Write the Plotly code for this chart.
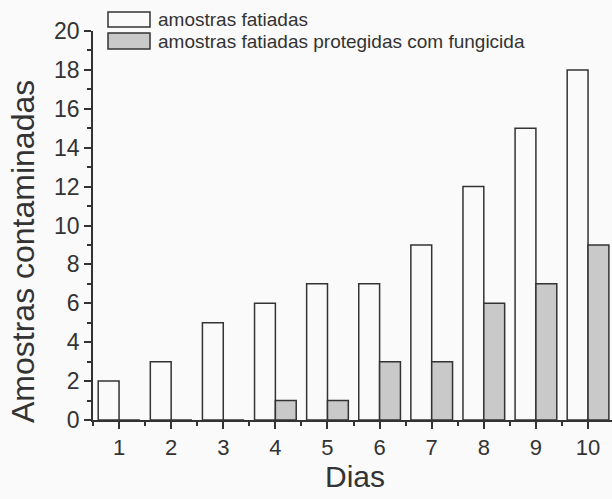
import plotly.graph_objects as go

dias = [1, 2, 3, 4, 5, 6, 7, 8, 9, 10]
fatiadas = [2, 3, 5, 6, 7, 7, 9, 12, 15, 18]
protegidas = [0, 0, 0, 1, 1, 3, 3, 6, 7, 9]
y_ticks = [0, 2, 4, 6, 8, 10, 12, 14, 16, 18, 20]
legend_labels = ["amostras fatiadas", "amostras fatiadas protegidas com fungicida"]
x_title = "Dias"
y_title = "Amostras contaminadas"

ink = "#333333"
bg = "#fafafa"
gray = "#c9c9c9"
font = "Liberation Sans, Arial, sans-serif"

W, H = 612, 499
L, R, T, B = 93, 0, 31, 79
pw, ph = W - L - R, H - T - B

def px(x):
    return (x - L) / pw

def py(y):
    return (H - B - y) / ph

fig = go.Figure()
fig.add_trace(go.Bar(x=dias, y=fatiadas, name=legend_labels[0],
                     marker=dict(color=bg, line=dict(color=ink, width=1.5))))
fig.add_trace(go.Bar(x=dias, y=protegidas, name=legend_labels[1],
                     marker=dict(color=gray, line=dict(color=ink, width=1.5))))

fig.update_layout(
    width=W, height=H,
    margin=dict(l=L, r=R, t=T, b=B),
    paper_bgcolor=bg, plot_bgcolor=bg,
    barmode="group", bargap=0.2, bargroupgap=0,
    showlegend=False,
    font=dict(family=font, color=ink),
)
fig.update_xaxes(
    range=[0.5, 10.46], tickvals=dias, ticktext=[str(d) for d in dias],
    ticks="outside", ticklen=7, tickwidth=1.5, tickcolor=ink,
    minor=dict(dtick=0.5, tick0=0.5, ticks="outside", ticklen=4, tickwidth=1.5, tickcolor=ink),
    showline=True, linecolor=ink, linewidth=1.5, showgrid=False, zeroline=False,
    tickfont=dict(size=22, color=ink),
)
fig.update_yaxes(
    range=[0, 20], tickvals=y_ticks,
    ticks="outside", ticklen=7, tickwidth=1.5, tickcolor=ink,
    minor=dict(dtick=1, ticks="outside", ticklen=4, tickwidth=1.5, tickcolor=ink),
    showline=True, linecolor=ink, linewidth=1.5, showgrid=False, zeroline=False,
    tickfont=dict(size=23, color=ink),
)

# axis titles
fig.add_annotation(xref="paper", yref="paper", x=px(355), y=py(476), text=x_title,
                   showarrow=False, xanchor="center", yanchor="middle",
                   font=dict(size=30, color=ink, family=font))
fig.add_annotation(xref="paper", yref="paper", x=px(23), y=py(252), text=y_title,
                   showarrow=False, xanchor="center", yanchor="middle", textangle=-90,
                   font=dict(size=32, color=ink, family=font))

# manual legend (wide swatches as in the original)
rows = [(12, 27, bg), (33, 49, gray)]
for (y0, y1, fill), label in zip(rows, legend_labels):
    fig.add_shape(type="rect", xref="paper", yref="paper",
                  x0=px(108), x1=px(150), y0=py(y1), y1=py(y0),
                  fillcolor=fill, line=dict(color=ink, width=1.5))
    fig.add_annotation(xref="paper", yref="paper", x=px(156), y=py((y0 + y1) / 2),
                       text=label, showarrow=False, xanchor="left", yanchor="middle",
                       font=dict(size=19, color=ink, family=font))

fig.write_html("out.html", config={"displayModeBar": False},
               post_script="document.body.style.margin='0';document.body.style.overflow='hidden';")
